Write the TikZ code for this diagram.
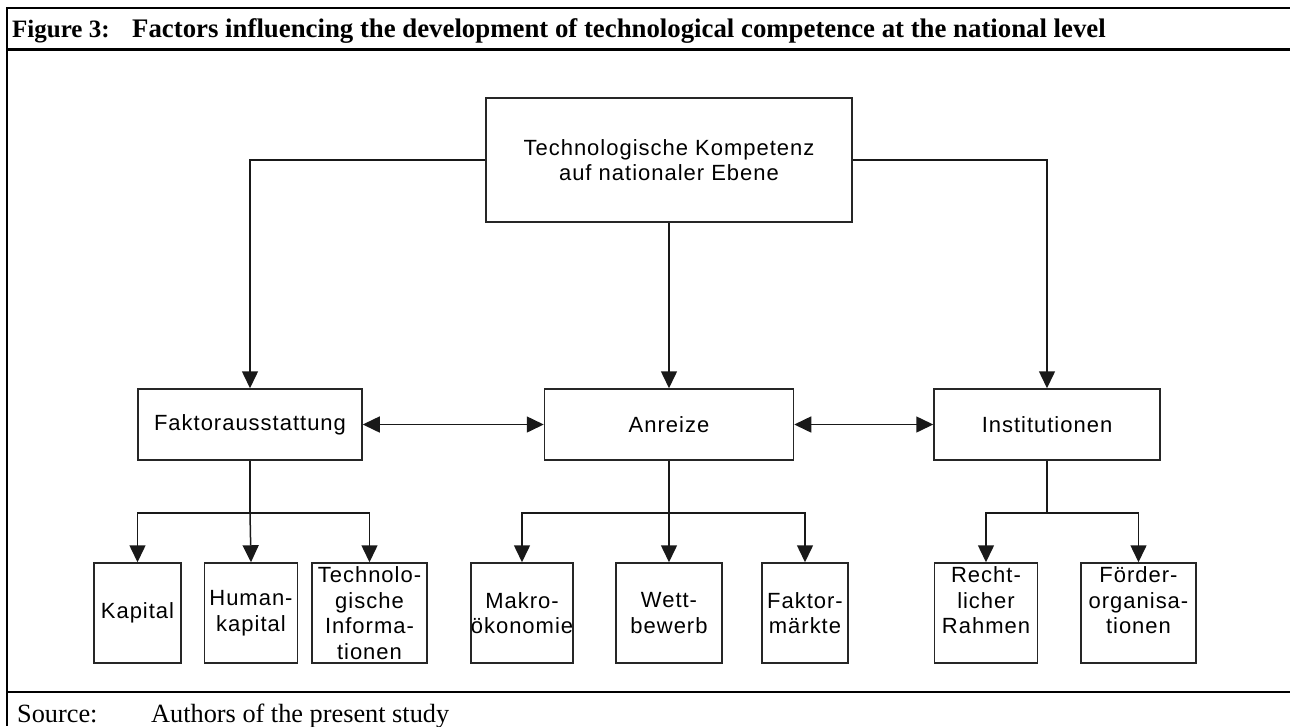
\documentclass[tikz,border=0pt]{standalone}
\usepackage{fontspec}
\setmainfont{Liberation Serif}
\newfontfamily\boxfont[LetterSpace=4.5]{Liberation Sans}
\usetikzlibrary{arrows.meta}
\begin{document}
\begin{tikzpicture}[x=1pt,y=-1pt,
  box/.style={draw=black!85, line width=1.5pt, align=center, inner sep=0pt,
    font=\boxfont\fontsize{22}{25.7}\selectfont},
  midbox/.style={box, minimum height=71pt},
  leaf/.style={box, minimum height=100pt},
  conn/.style={line width=1.5pt, draw=black!90, -{Triangle[length=17pt,width=16pt]}},
  plainline/.style={line width=1.5pt, draw=black!90},
  dbl/.style={line width=1.5pt, draw=black!90, {Triangle[length=17pt,width=16pt]}-{Triangle[length=17pt,width=16pt]}},
  frame/.style={line width=2.2pt, black},
  headtxt/.style={inner sep=0pt, anchor=base west, font=\fontsize{25}{30}\selectfont\bfseries},
  titletxt/.style={inner sep=0pt, anchor=base west, font=\fontsize{26.8}{32}\selectfont\bfseries},
  srctxt/.style={inner sep=0pt, anchor=base west, font=\fontsize{26.3}{31}\selectfont}]
\useasboundingbox (0,0) rectangle (1290,726);
% frame
\draw[frame] (7,8) -- (1290,8);
\draw[frame] (7,49.5) -- (1290,49.5);
\draw[frame] (7,692) -- (1290,692);
\draw[frame] (7,7) -- (7,726);
% header and source
\node[headtxt] (fig) at (12,37) {Figure 3:};
\node[titletxt] (title) at (132,37) {Factors influencing the development of technological competence at the national level};
\node[srctxt] (src) at (17,722) {Source:};
\node[srctxt] (auth) at (151,722) {Authors of the present study};
% top box
\node[box, minimum width=366pt, minimum height=124pt] (top) at (669,160)
  {Technologische Kompetenz\\auf nationaler Ebene};
% middle row
\node[midbox, minimum width=224pt] (fak) at (250,424.5) {Faktorausstattung};
\node[midbox, minimum width=249pt] (ann) at (669,424.5) {Anreize};
\node[midbox, minimum width=226pt] (inst) at (1047,424.5) {Institutionen};
% leaves
\node[leaf, minimum width=87pt] (kap) at (137.5,613) {Kapital};
\node[leaf, minimum width=93pt] (hum) at (251,613) {Human-\\kapital};
\node[leaf, minimum width=115pt] (tech) at (369.5,613) {Technolo-\\gische\\Informa-\\tionen};
\node[leaf, minimum width=100pt] (makro) at (522,613) {Makro-\\ökonomie};
\node[leaf, minimum width=106pt] (wett) at (669,613) {Wett-\\bewerb};
\node[leaf, minimum width=86pt] (fmarkt) at (805,613) {Faktor-\\märkte};
\node[leaf, minimum width=103pt] (recht) at (986,613) {Recht-\\licher\\Rahmen\\\mbox{}};
\node[leaf, minimum width=115pt] (foerd) at (1138.5,613) {Förder-\\organisa-\\tionen\\\mbox{}};
% junctions
\coordinate (jf) at (250,513);
\coordinate (ja) at (669,513);
\coordinate (ji) at (1047,513);
% top connectors
\draw[conn] (top.west) -| (fak.north);
\draw[conn] (top.south) -- (ann.north);
\draw[conn] (top.east) -| (inst.north);
% double arrows
\draw[dbl] (fak.east) -- (ann.west);
\draw[dbl] (ann.east) -- (inst.west);
% branches
\draw[plainline] (fak.south) -- (jf);
\draw[conn] (jf) -| (kap.north);
\draw[conn] (jf) -- (hum.north);
\draw[conn] (jf) -| (tech.north);
\draw[plainline] (ann.south) -- (ja);
\draw[conn] (ja) -| (makro.north);
\draw[conn] (ja) -- (wett.north);
\draw[conn] (ja) -| (fmarkt.north);
\draw[plainline] (inst.south) -- (ji);
\draw[conn] (ji) -| (recht.north);
\draw[conn] (ji) -| (foerd.north);
\end{tikzpicture}
\end{document}
